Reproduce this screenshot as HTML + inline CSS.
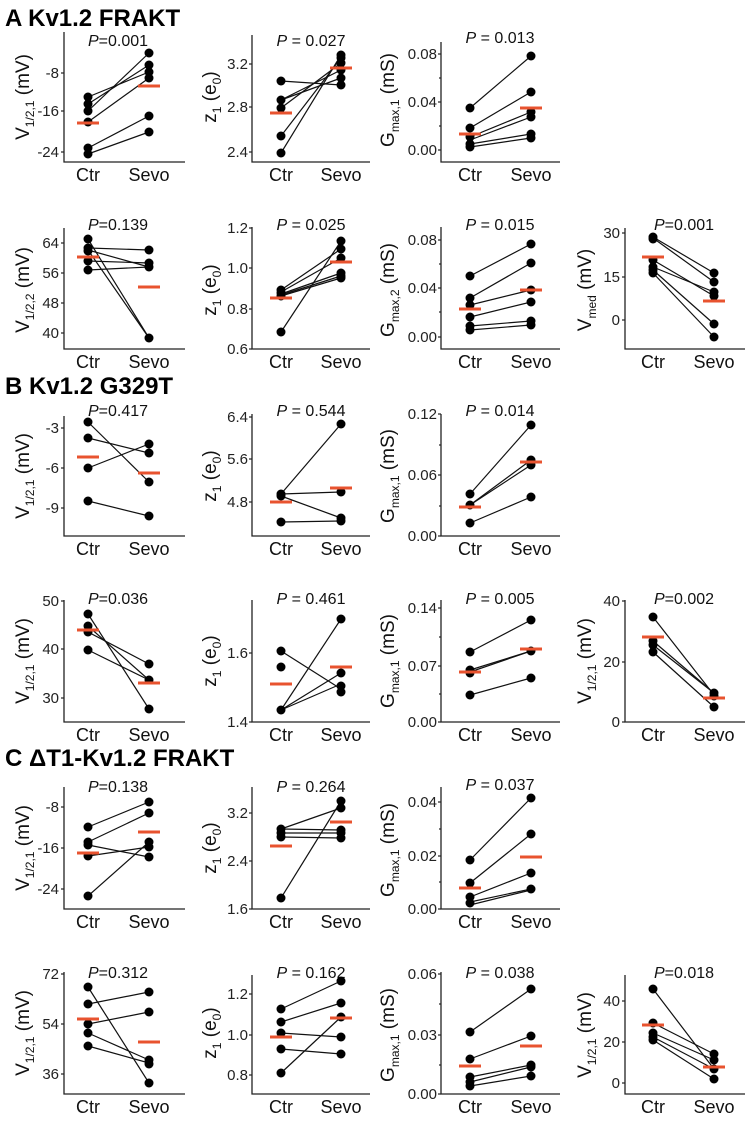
<!DOCTYPE html>
<html><head><meta charset="utf-8"><style>
html,body{margin:0;padding:0;background:#fff;}
svg{display:block;font-family:"Liberation Sans",Arial,sans-serif;}
.ax{fill:none;stroke:#222;stroke-width:1.3}
.tk{stroke:#222;stroke-width:1.2}
.tl{font-size:15px;text-anchor:end;fill:#222}
.xl{font-size:18px;text-anchor:middle;fill:#111}
.p{font-size:16px;text-anchor:middle;fill:#111}
.yl{font-size:19px;text-anchor:middle;fill:#111}
.ln{stroke:#111;stroke-width:1.2}
.d{fill:#000}
.m{stroke:#e8532f;stroke-width:3}
.h{font-size:24px;font-weight:bold;fill:#000}
</style></head><body>
<svg width="751" height="1124" viewBox="0 0 751 1124">
<text class="h" x="5" y="26">A  Kv1.2 FRAKT</text>
<text class="h" x="5" y="394">B  Kv1.2 G329T</text>
<text class="h" x="5" y="766">C  ΔT1-Kv1.2 FRAKT</text>

<!-- ============ A1 ============ -->
<path class="ax" d="M64,32V162H185"/>
<line class="tk" x1="61" y1="73" x2="64" y2="73"/><line class="tk" x1="61" y1="111" x2="64" y2="111"/><line class="tk" x1="61" y1="152" x2="64" y2="152"/>
<text class="tl" x="59" y="78">-8</text><text class="tl" x="59" y="116">-16</text><text class="tl" x="59" y="157">-24</text>
<text class="p" x="118" y="46"><tspan font-style="italic">P</tspan>=0.001</text>
<text class="xl" x="88" y="181">Ctr</text><text class="xl" x="149" y="181">Sevo</text>
<text class="yl" transform="translate(29,97) rotate(-90)">V<tspan font-size="12" dy="5">1/2,1</tspan><tspan dy="-5"> (mV)</tspan></text>
<g>
<line class="ln" x1="88" y1="97" x2="149" y2="72"/><line class="ln" x1="88" y1="104" x2="149" y2="65"/><line class="ln" x1="88" y1="111" x2="149" y2="53"/><line class="ln" x1="88" y1="122" x2="149" y2="78"/><line class="ln" x1="88" y1="148" x2="149" y2="116"/><line class="ln" x1="88" y1="154" x2="149" y2="132"/>
<circle class="d" cx="88" cy="97" r="4.5"/><circle class="d" cx="88" cy="104" r="4.5"/><circle class="d" cx="88" cy="111" r="4.5"/><circle class="d" cx="88" cy="122" r="4.5"/><circle class="d" cx="88" cy="148" r="4.5"/><circle class="d" cx="88" cy="154" r="4.5"/>
<circle class="d" cx="149" cy="53" r="4.5"/><circle class="d" cx="149" cy="65" r="4.5"/><circle class="d" cx="149" cy="72" r="4.5"/><circle class="d" cx="149" cy="78" r="4.5"/><circle class="d" cx="149" cy="116" r="4.5"/><circle class="d" cx="149" cy="132" r="4.5"/>
<line class="m" x1="77" y1="123" x2="99" y2="123"/><line class="m" x1="138" y1="86" x2="160" y2="86"/>
</g>
<path class="ax" d="M252,35V162H370"/>
<line class="tk" x1="249" y1="64" x2="252" y2="64"/><line class="tk" x1="249" y1="107" x2="252" y2="107"/><line class="tk" x1="249" y1="152" x2="252" y2="152"/>
<text class="tl" x="248" y="69">3.2</text><text class="tl" x="248" y="112">2.8</text><text class="tl" x="248" y="157">2.4</text>
<text class="p" x="311" y="46"><tspan font-style="italic">P</tspan> = 0.027</text>
<text class="xl" x="281" y="181">Ctr</text><text class="xl" x="341" y="181">Sevo</text>
<text class="yl" transform="translate(216,97) rotate(-90)">z<tspan font-size="12" dy="5">1</tspan><tspan dy="-5"> (e</tspan><tspan font-size="12" dy="5">0</tspan><tspan dy="-5">)</tspan></text>
<g>
<line class="ln" x1="281" y1="81" x2="341" y2="85"/><line class="ln" x1="281" y1="100" x2="341" y2="70"/><line class="ln" x1="281" y1="100" x2="341" y2="78"/><line class="ln" x1="281" y1="108" x2="341" y2="63"/><line class="ln" x1="281" y1="136" x2="341" y2="58"/><line class="ln" x1="281" y1="153" x2="341" y2="55"/>
<circle class="d" cx="281" cy="81" r="4.5"/><circle class="d" cx="281" cy="100" r="4.5"/><circle class="d" cx="281" cy="108" r="4.5"/><circle class="d" cx="281" cy="136" r="4.5"/><circle class="d" cx="281" cy="153" r="4.5"/>
<circle class="d" cx="341" cy="55" r="4.5"/><circle class="d" cx="341" cy="58" r="4.5"/><circle class="d" cx="341" cy="63" r="4.5"/><circle class="d" cx="341" cy="70" r="4.5"/><circle class="d" cx="341" cy="78" r="4.5"/><circle class="d" cx="341" cy="85" r="4.5"/>
<line class="m" x1="270" y1="113" x2="292" y2="113"/><line class="m" x1="330" y1="68" x2="352" y2="68"/>
</g>
<path class="ax" d="M441,42V162H560"/>
<line class="tk" x1="438" y1="54" x2="441" y2="54"/><line class="tk" x1="438" y1="102" x2="441" y2="102"/><line class="tk" x1="438" y1="150" x2="441" y2="150"/>
<line class="tk" x1="439" y1="78" x2="441" y2="78"/><line class="tk" x1="439" y1="126" x2="441" y2="126"/>
<text class="tl" x="437" y="59">0.08</text><text class="tl" x="437" y="107">0.04</text><text class="tl" x="437" y="155">0.00</text>
<text class="p" x="500" y="43"><tspan font-style="italic">P</tspan> = 0.013</text>
<text class="xl" x="470" y="181">Ctr</text><text class="xl" x="531" y="181">Sevo</text>
<text class="yl" transform="translate(394,100) rotate(-90)">G<tspan font-size="12" dy="5">max,1</tspan><tspan dy="-5"> (mS)</tspan></text>
<g>
<line class="ln" x1="470" y1="108" x2="531" y2="56"/><line class="ln" x1="470" y1="128" x2="531" y2="92"/><line class="ln" x1="470" y1="137" x2="531" y2="112"/><line class="ln" x1="470" y1="140" x2="531" y2="117"/><line class="ln" x1="470" y1="144" x2="531" y2="134"/><line class="ln" x1="470" y1="147" x2="531" y2="138"/>
<circle class="d" cx="470" cy="108" r="4.5"/><circle class="d" cx="470" cy="128" r="4.5"/><circle class="d" cx="470" cy="137" r="4.5"/><circle class="d" cx="470" cy="144" r="4.5"/><circle class="d" cx="470" cy="147" r="4.5"/>
<circle class="d" cx="531" cy="56" r="4.5"/><circle class="d" cx="531" cy="92" r="4.5"/><circle class="d" cx="531" cy="112" r="4.5"/><circle class="d" cx="531" cy="117" r="4.5"/><circle class="d" cx="531" cy="134" r="4.5"/><circle class="d" cx="531" cy="138" r="4.5"/>
<line class="m" x1="459" y1="134" x2="481" y2="134"/><line class="m" x1="520" y1="108" x2="542" y2="108"/>
</g>

<!-- ============ A2 ============ -->
<path class="ax" d="M64,228V349H185"/>
<line class="tk" x1="61" y1="243" x2="64" y2="243"/><line class="tk" x1="61" y1="273" x2="64" y2="273"/><line class="tk" x1="61" y1="303" x2="64" y2="303"/><line class="tk" x1="61" y1="333" x2="64" y2="333"/>
<text class="tl" x="59" y="248">64</text><text class="tl" x="59" y="278">56</text><text class="tl" x="59" y="308">48</text><text class="tl" x="59" y="338">40</text>
<text class="p" x="118" y="230"><tspan font-style="italic">P</tspan>=0.139</text>
<text class="xl" x="88" y="368">Ctr</text><text class="xl" x="149" y="368">Sevo</text>
<text class="yl" transform="translate(29,290) rotate(-90)">V<tspan font-size="12" dy="5">1/2,2</tspan><tspan dy="-5"> (mV)</tspan></text>
<g>
<line class="ln" x1="88" y1="239" x2="149" y2="338"/><line class="ln" x1="88" y1="248" x2="149" y2="250"/><line class="ln" x1="88" y1="250" x2="149" y2="338"/><line class="ln" x1="88" y1="261" x2="149" y2="263"/><line class="ln" x1="88" y1="270" x2="149" y2="267"/><line class="ln" x1="88" y1="250" x2="149" y2="267"/>
<circle class="d" cx="88" cy="239" r="4.5"/><circle class="d" cx="88" cy="248" r="4.5"/><circle class="d" cx="88" cy="251" r="4.5"/><circle class="d" cx="88" cy="261" r="4.5"/><circle class="d" cx="88" cy="270" r="4.5"/>
<circle class="d" cx="149" cy="250" r="4.5"/><circle class="d" cx="149" cy="263" r="4.5"/><circle class="d" cx="149" cy="267" r="4.5"/><circle class="d" cx="149" cy="338" r="4.5"/>
<line class="m" x1="77" y1="257" x2="99" y2="257"/><line class="m" x1="138" y1="287" x2="160" y2="287"/>
</g>
<path class="ax" d="M252,227V349H370"/>
<line class="tk" x1="249" y1="228" x2="252" y2="228"/><line class="tk" x1="249" y1="268" x2="252" y2="268"/><line class="tk" x1="249" y1="309" x2="252" y2="309"/><line class="tk" x1="249" y1="349" x2="252" y2="349"/>
<text class="tl" x="248" y="233">1.2</text><text class="tl" x="248" y="273">1.0</text><text class="tl" x="248" y="314">0.8</text><text class="tl" x="248" y="354">0.6</text>
<text class="p" x="311" y="230"><tspan font-style="italic">P</tspan> = 0.025</text>
<text class="xl" x="281" y="368">Ctr</text><text class="xl" x="341" y="368">Sevo</text>
<text class="yl" transform="translate(216,290) rotate(-90)">z<tspan font-size="12" dy="5">1</tspan><tspan dy="-5"> (e</tspan><tspan font-size="12" dy="5">0</tspan><tspan dy="-5">)</tspan></text>
<g>
<line class="ln" x1="281" y1="290" x2="341" y2="249"/><line class="ln" x1="281" y1="292" x2="341" y2="258"/><line class="ln" x1="281" y1="294" x2="341" y2="273"/><line class="ln" x1="281" y1="295" x2="341" y2="276"/><line class="ln" x1="281" y1="296" x2="341" y2="278"/><line class="ln" x1="281" y1="332" x2="341" y2="241"/>
<circle class="d" cx="281" cy="290" r="4.5"/><circle class="d" cx="281" cy="293" r="4.5"/><circle class="d" cx="281" cy="296" r="4.5"/><circle class="d" cx="281" cy="332" r="4.5"/>
<circle class="d" cx="341" cy="241" r="4.5"/><circle class="d" cx="341" cy="249" r="4.5"/><circle class="d" cx="341" cy="258" r="4.5"/><circle class="d" cx="341" cy="273" r="4.5"/><circle class="d" cx="341" cy="276" r="4.5"/><circle class="d" cx="341" cy="278" r="4.5"/>
<line class="m" x1="270" y1="298" x2="292" y2="298"/><line class="m" x1="330" y1="262" x2="352" y2="262"/>
</g>
<path class="ax" d="M441,227V349H560"/>
<line class="tk" x1="438" y1="240" x2="441" y2="240"/><line class="tk" x1="438" y1="288" x2="441" y2="288"/><line class="tk" x1="438" y1="337" x2="441" y2="337"/>
<line class="tk" x1="439" y1="264" x2="441" y2="264"/><line class="tk" x1="439" y1="312" x2="441" y2="312"/>
<text class="tl" x="437" y="245">0.08</text><text class="tl" x="437" y="293">0.04</text><text class="tl" x="437" y="342">0.00</text>
<text class="p" x="500" y="230"><tspan font-style="italic">P</tspan> = 0.015</text>
<text class="xl" x="470" y="368">Ctr</text><text class="xl" x="531" y="368">Sevo</text>
<text class="yl" transform="translate(394,290) rotate(-90)">G<tspan font-size="12" dy="5">max,2</tspan><tspan dy="-5"> (mS)</tspan></text>
<g>
<line class="ln" x1="470" y1="276" x2="531" y2="244"/><line class="ln" x1="470" y1="298" x2="531" y2="263"/><line class="ln" x1="470" y1="305" x2="531" y2="290"/><line class="ln" x1="470" y1="317" x2="531" y2="302"/><line class="ln" x1="470" y1="326" x2="531" y2="321"/><line class="ln" x1="470" y1="330" x2="531" y2="325"/>
<circle class="d" cx="470" cy="276" r="4.5"/><circle class="d" cx="470" cy="298" r="4.5"/><circle class="d" cx="470" cy="305" r="4.5"/><circle class="d" cx="470" cy="317" r="4.5"/><circle class="d" cx="470" cy="326" r="4.5"/><circle class="d" cx="470" cy="330" r="4.5"/>
<circle class="d" cx="531" cy="244" r="4.5"/><circle class="d" cx="531" cy="263" r="4.5"/><circle class="d" cx="531" cy="290" r="4.5"/><circle class="d" cx="531" cy="302" r="4.5"/><circle class="d" cx="531" cy="321" r="4.5"/><circle class="d" cx="531" cy="325" r="4.5"/>
<line class="m" x1="459" y1="309" x2="481" y2="309"/><line class="m" x1="520" y1="290" x2="542" y2="290"/>
</g>
<path class="ax" d="M625,228V349H745"/>
<line class="tk" x1="622" y1="233" x2="625" y2="233"/><line class="tk" x1="622" y1="277" x2="625" y2="277"/><line class="tk" x1="622" y1="320" x2="625" y2="320"/>
<text class="tl" x="620" y="238">30</text><text class="tl" x="620" y="282">15</text><text class="tl" x="620" y="325">0</text>
<text class="p" x="684" y="230"><tspan font-style="italic">P</tspan>=0.001</text>
<text class="xl" x="653" y="368">Ctr</text><text class="xl" x="714" y="368">Sevo</text>
<text class="yl" transform="translate(591,290) rotate(-90)">V<tspan font-size="12" dy="5">med</tspan><tspan dy="-5"> (mV)</tspan></text>
<g>
<line class="ln" x1="653" y1="237" x2="714" y2="273"/><line class="ln" x1="653" y1="238" x2="714" y2="282"/><line class="ln" x1="653" y1="260" x2="714" y2="296"/><line class="ln" x1="653" y1="267" x2="714" y2="292"/><line class="ln" x1="653" y1="270" x2="714" y2="324"/><line class="ln" x1="653" y1="273" x2="714" y2="337"/>
<circle class="d" cx="653" cy="237" r="4.5"/><circle class="d" cx="653" cy="239" r="4.5"/><circle class="d" cx="653" cy="260" r="4.5"/><circle class="d" cx="653" cy="267" r="4.5"/><circle class="d" cx="653" cy="270" r="4.5"/><circle class="d" cx="653" cy="273" r="4.5"/>
<circle class="d" cx="714" cy="273" r="4.5"/><circle class="d" cx="714" cy="282" r="4.5"/><circle class="d" cx="714" cy="292" r="4.5"/><circle class="d" cx="714" cy="296" r="4.5"/><circle class="d" cx="714" cy="324" r="4.5"/><circle class="d" cx="714" cy="337" r="4.5"/>
<line class="m" x1="642" y1="257" x2="664" y2="257"/><line class="m" x1="703" y1="301" x2="725" y2="301"/>
</g>

<!-- ============ B1 ============ -->
<path class="ax" d="M64,416V536H185"/>
<line class="tk" x1="61" y1="428" x2="64" y2="428"/><line class="tk" x1="61" y1="468" x2="64" y2="468"/><line class="tk" x1="61" y1="508" x2="64" y2="508"/>
<text class="tl" x="59" y="433">-3</text><text class="tl" x="59" y="473">-6</text><text class="tl" x="59" y="513">-9</text>
<text class="p" x="118" y="416"><tspan font-style="italic">P</tspan>=0.417</text>
<text class="xl" x="88" y="555">Ctr</text><text class="xl" x="149" y="555">Sevo</text>
<text class="yl" transform="translate(29,476) rotate(-90)">V<tspan font-size="12" dy="5">1/2,1</tspan><tspan dy="-5"> (mV)</tspan></text>
<g>
<line class="ln" x1="88" y1="422" x2="149" y2="482"/><line class="ln" x1="88" y1="438" x2="149" y2="453"/><line class="ln" x1="88" y1="468" x2="149" y2="444"/><line class="ln" x1="88" y1="501" x2="149" y2="516"/>
<circle class="d" cx="88" cy="422" r="4.5"/><circle class="d" cx="88" cy="438" r="4.5"/><circle class="d" cx="88" cy="468" r="4.5"/><circle class="d" cx="88" cy="501" r="4.5"/>
<circle class="d" cx="149" cy="444" r="4.5"/><circle class="d" cx="149" cy="453" r="4.5"/><circle class="d" cx="149" cy="482" r="4.5"/><circle class="d" cx="149" cy="516" r="4.5"/>
<line class="m" x1="77" y1="457" x2="99" y2="457"/><line class="m" x1="138" y1="473" x2="160" y2="473"/>
</g>
<path class="ax" d="M252,414V536H370"/>
<line class="tk" x1="249" y1="417" x2="252" y2="417"/><line class="tk" x1="249" y1="459" x2="252" y2="459"/><line class="tk" x1="249" y1="502" x2="252" y2="502"/>
<text class="tl" x="248" y="422">6.4</text><text class="tl" x="248" y="464">5.6</text><text class="tl" x="248" y="507">4.8</text>
<text class="p" x="311" y="416"><tspan font-style="italic">P</tspan> = 0.544</text>
<text class="xl" x="281" y="555">Ctr</text><text class="xl" x="341" y="555">Sevo</text>
<text class="yl" transform="translate(216,476) rotate(-90)">z<tspan font-size="12" dy="5">1</tspan><tspan dy="-5"> (e</tspan><tspan font-size="12" dy="5">0</tspan><tspan dy="-5">)</tspan></text>
<g>
<line class="ln" x1="281" y1="494" x2="341" y2="424"/><line class="ln" x1="281" y1="494" x2="341" y2="492"/><line class="ln" x1="281" y1="496" x2="341" y2="518"/><line class="ln" x1="281" y1="522" x2="341" y2="521"/>
<circle class="d" cx="281" cy="494" r="4.5"/><circle class="d" cx="281" cy="496" r="4.5"/><circle class="d" cx="281" cy="522" r="4.5"/>
<circle class="d" cx="341" cy="424" r="4.5"/><circle class="d" cx="341" cy="492" r="4.5"/><circle class="d" cx="341" cy="518" r="4.5"/><circle class="d" cx="341" cy="521" r="4.5"/>
<line class="m" x1="270" y1="502" x2="292" y2="502"/><line class="m" x1="330" y1="488" x2="352" y2="488"/>
</g>
<path class="ax" d="M441,414V536H560"/>
<line class="tk" x1="438" y1="414" x2="441" y2="414"/><line class="tk" x1="438" y1="475" x2="441" y2="475"/><line class="tk" x1="438" y1="536" x2="441" y2="536"/>
<line class="tk" x1="439" y1="445" x2="441" y2="445"/><line class="tk" x1="439" y1="506" x2="441" y2="506"/>
<text class="tl" x="437" y="419">0.12</text><text class="tl" x="437" y="480">0.06</text><text class="tl" x="437" y="541">0.00</text>
<text class="p" x="500" y="416"><tspan font-style="italic">P</tspan> = 0.014</text>
<text class="xl" x="470" y="555">Ctr</text><text class="xl" x="531" y="555">Sevo</text>
<text class="yl" transform="translate(394,476) rotate(-90)">G<tspan font-size="12" dy="5">max,1</tspan><tspan dy="-5"> (mS)</tspan></text>
<g>
<line class="ln" x1="470" y1="494" x2="531" y2="425"/><line class="ln" x1="470" y1="505" x2="531" y2="460"/><line class="ln" x1="470" y1="505" x2="531" y2="465"/><line class="ln" x1="470" y1="523" x2="531" y2="497"/>
<circle class="d" cx="470" cy="494" r="4.5"/><circle class="d" cx="470" cy="505" r="4.5"/><circle class="d" cx="470" cy="523" r="4.5"/>
<circle class="d" cx="531" cy="425" r="4.5"/><circle class="d" cx="531" cy="460" r="4.5"/><circle class="d" cx="531" cy="465" r="4.5"/><circle class="d" cx="531" cy="497" r="4.5"/>
<line class="m" x1="459" y1="507" x2="481" y2="507"/><line class="m" x1="520" y1="462" x2="542" y2="462"/>
</g>

<!-- ============ B2 ============ -->
<path class="ax" d="M64,600V722H185"/>
<line class="tk" x1="61" y1="601" x2="64" y2="601"/><line class="tk" x1="61" y1="649" x2="64" y2="649"/><line class="tk" x1="61" y1="698" x2="64" y2="698"/>
<text class="tl" x="59" y="606">50</text><text class="tl" x="59" y="654">40</text><text class="tl" x="59" y="703">30</text>
<text class="p" x="118" y="604"><tspan font-style="italic">P</tspan>=0.036</text>
<text class="xl" x="88" y="741">Ctr</text><text class="xl" x="149" y="741">Sevo</text>
<text class="yl" transform="translate(29,661) rotate(-90)">V<tspan font-size="12" dy="5">1/2,1</tspan><tspan dy="-5"> (mV)</tspan></text>
<g>
<line class="ln" x1="88" y1="614" x2="149" y2="709"/><line class="ln" x1="88" y1="626" x2="149" y2="680"/><line class="ln" x1="88" y1="632" x2="149" y2="664"/><line class="ln" x1="88" y1="650" x2="149" y2="680"/>
<circle class="d" cx="88" cy="614" r="4.5"/><circle class="d" cx="88" cy="626" r="4.5"/><circle class="d" cx="88" cy="632" r="4.5"/><circle class="d" cx="88" cy="650" r="4.5"/>
<circle class="d" cx="149" cy="664" r="4.5"/><circle class="d" cx="149" cy="680" r="4.5"/><circle class="d" cx="149" cy="709" r="4.5"/>
<line class="m" x1="77" y1="630" x2="99" y2="630"/><line class="m" x1="138" y1="683" x2="160" y2="683"/>
</g>
<path class="ax" d="M252,600V722H370"/>
<line class="tk" x1="249" y1="653" x2="252" y2="653"/><line class="tk" x1="249" y1="722" x2="252" y2="722"/>
<text class="tl" x="248" y="658">1.6</text><text class="tl" x="248" y="727">1.4</text>
<text class="p" x="311" y="604"><tspan font-style="italic">P</tspan> = 0.461</text>
<text class="xl" x="281" y="741">Ctr</text><text class="xl" x="341" y="741">Sevo</text>
<text class="yl" transform="translate(216,661) rotate(-90)">z<tspan font-size="12" dy="5">1</tspan><tspan dy="-5"> (e</tspan><tspan font-size="12" dy="5">0</tspan><tspan dy="-5">)</tspan></text>
<g>
<line class="ln" x1="281" y1="651" x2="341" y2="689"/><line class="ln" x1="281" y1="710" x2="341" y2="619"/><line class="ln" x1="281" y1="710" x2="341" y2="673"/><line class="ln" x1="281" y1="710" x2="341" y2="684"/>
<circle class="d" cx="281" cy="651" r="4.5"/><circle class="d" cx="281" cy="667" r="4.5"/><circle class="d" cx="281" cy="710" r="4.5"/>
<circle class="d" cx="341" cy="619" r="4.5"/><circle class="d" cx="341" cy="673" r="4.5"/><circle class="d" cx="341" cy="686" r="4.5"/><circle class="d" cx="341" cy="692" r="4.5"/>
<line class="m" x1="270" y1="684" x2="292" y2="684"/><line class="m" x1="330" y1="667" x2="352" y2="667"/>
</g>
<path class="ax" d="M441,600V722H560"/>
<line class="tk" x1="438" y1="608" x2="441" y2="608"/><line class="tk" x1="438" y1="666" x2="441" y2="666"/><line class="tk" x1="438" y1="722" x2="441" y2="722"/>
<line class="tk" x1="439" y1="637" x2="441" y2="637"/><line class="tk" x1="439" y1="694" x2="441" y2="694"/>
<text class="tl" x="437" y="613">0.14</text><text class="tl" x="437" y="671">0.07</text><text class="tl" x="437" y="727">0.00</text>
<text class="p" x="500" y="604"><tspan font-style="italic">P</tspan> = 0.005</text>
<text class="xl" x="470" y="741">Ctr</text><text class="xl" x="531" y="741">Sevo</text>
<text class="yl" transform="translate(394,661) rotate(-90)">G<tspan font-size="12" dy="5">max,1</tspan><tspan dy="-5"> (mS)</tspan></text>
<g>
<line class="ln" x1="470" y1="652" x2="531" y2="620"/><line class="ln" x1="470" y1="670" x2="531" y2="651"/><line class="ln" x1="470" y1="672" x2="531" y2="651"/><line class="ln" x1="470" y1="695" x2="531" y2="678"/>
<circle class="d" cx="470" cy="652" r="4.5"/><circle class="d" cx="470" cy="670" r="4.5"/><circle class="d" cx="470" cy="673" r="4.5"/><circle class="d" cx="470" cy="695" r="4.5"/>
<circle class="d" cx="531" cy="620" r="4.5"/><circle class="d" cx="531" cy="651" r="4.5"/><circle class="d" cx="531" cy="678" r="4.5"/>
<line class="m" x1="459" y1="672" x2="481" y2="672"/><line class="m" x1="520" y1="649" x2="542" y2="649"/>
</g>
<path class="ax" d="M625,600V722H745"/>
<line class="tk" x1="622" y1="601" x2="625" y2="601"/><line class="tk" x1="622" y1="662" x2="625" y2="662"/><line class="tk" x1="622" y1="722" x2="625" y2="722"/>
<text class="tl" x="620" y="606">40</text><text class="tl" x="620" y="667">20</text><text class="tl" x="620" y="727">0</text>
<text class="p" x="684" y="604"><tspan font-style="italic">P</tspan>=0.002</text>
<text class="xl" x="653" y="741">Ctr</text><text class="xl" x="714" y="741">Sevo</text>
<text class="yl" transform="translate(591,661) rotate(-90)">V<tspan font-size="12" dy="5">1/2,1</tspan><tspan dy="-5"> (mV)</tspan></text>
<g>
<line class="ln" x1="653" y1="617" x2="714" y2="695"/><line class="ln" x1="653" y1="641" x2="714" y2="693"/><line class="ln" x1="653" y1="645" x2="714" y2="693"/><line class="ln" x1="653" y1="652" x2="714" y2="707"/>
<circle class="d" cx="653" cy="617" r="4.5"/><circle class="d" cx="653" cy="641" r="4.5"/><circle class="d" cx="653" cy="645" r="4.5"/><circle class="d" cx="653" cy="652" r="4.5"/>
<circle class="d" cx="714" cy="693" r="4.5"/><circle class="d" cx="714" cy="696" r="4.5"/><circle class="d" cx="714" cy="707" r="4.5"/>
<line class="m" x1="642" y1="637" x2="664" y2="637"/><line class="m" x1="703" y1="698" x2="725" y2="698"/>
</g>

<!-- ============ C1 ============ -->
<path class="ax" d="M64,787V909H185"/>
<line class="tk" x1="61" y1="807" x2="64" y2="807"/><line class="tk" x1="61" y1="848" x2="64" y2="848"/><line class="tk" x1="61" y1="889" x2="64" y2="889"/>
<text class="tl" x="59" y="812">-8</text><text class="tl" x="59" y="853">-16</text><text class="tl" x="59" y="894">-24</text>
<text class="p" x="118" y="792"><tspan font-style="italic">P</tspan>=0.138</text>
<text class="xl" x="88" y="928">Ctr</text><text class="xl" x="149" y="928">Sevo</text>
<text class="yl" transform="translate(29,848) rotate(-90)">V<tspan font-size="12" dy="5">1/2,1</tspan><tspan dy="-5"> (mV)</tspan></text>
<g>
<line class="ln" x1="88" y1="827" x2="149" y2="802"/><line class="ln" x1="88" y1="842" x2="149" y2="813"/><line class="ln" x1="88" y1="845" x2="149" y2="857"/><line class="ln" x1="88" y1="856" x2="149" y2="847"/><line class="ln" x1="88" y1="896" x2="149" y2="842"/>
<circle class="d" cx="88" cy="827" r="4.5"/><circle class="d" cx="88" cy="842" r="4.5"/><circle class="d" cx="88" cy="845" r="4.5"/><circle class="d" cx="88" cy="856" r="4.5"/><circle class="d" cx="88" cy="896" r="4.5"/>
<circle class="d" cx="149" cy="802" r="4.5"/><circle class="d" cx="149" cy="813" r="4.5"/><circle class="d" cx="149" cy="842" r="4.5"/><circle class="d" cx="149" cy="847" r="4.5"/><circle class="d" cx="149" cy="857" r="4.5"/>
<line class="m" x1="77" y1="853" x2="99" y2="853"/><line class="m" x1="138" y1="832" x2="160" y2="832"/>
</g>
<path class="ax" d="M252,787V909H370"/>
<line class="tk" x1="249" y1="813" x2="252" y2="813"/><line class="tk" x1="249" y1="861" x2="252" y2="861"/><line class="tk" x1="249" y1="909" x2="252" y2="909"/>
<text class="tl" x="248" y="818">3.2</text><text class="tl" x="248" y="866">2.4</text><text class="tl" x="248" y="914">1.6</text>
<text class="p" x="311" y="792"><tspan font-style="italic">P</tspan> = 0.264</text>
<text class="xl" x="281" y="928">Ctr</text><text class="xl" x="341" y="928">Sevo</text>
<text class="yl" transform="translate(216,848) rotate(-90)">z<tspan font-size="12" dy="5">1</tspan><tspan dy="-5"> (e</tspan><tspan font-size="12" dy="5">0</tspan><tspan dy="-5">)</tspan></text>
<g>
<line class="ln" x1="281" y1="829" x2="341" y2="808"/><line class="ln" x1="281" y1="829" x2="341" y2="830"/><line class="ln" x1="281" y1="833" x2="341" y2="833"/><line class="ln" x1="281" y1="837" x2="341" y2="838"/><line class="ln" x1="281" y1="898" x2="341" y2="801"/>
<circle class="d" cx="281" cy="829" r="4.5"/><circle class="d" cx="281" cy="833" r="4.5"/><circle class="d" cx="281" cy="837" r="4.5"/><circle class="d" cx="281" cy="898" r="4.5"/>
<circle class="d" cx="341" cy="801" r="4.5"/><circle class="d" cx="341" cy="808" r="4.5"/><circle class="d" cx="341" cy="830" r="4.5"/><circle class="d" cx="341" cy="833" r="4.5"/><circle class="d" cx="341" cy="838" r="4.5"/>
<line class="m" x1="270" y1="846" x2="292" y2="846"/><line class="m" x1="330" y1="822" x2="352" y2="822"/>
</g>
<path class="ax" d="M441,787V909H560"/>
<line class="tk" x1="438" y1="802" x2="441" y2="802"/><line class="tk" x1="438" y1="856" x2="441" y2="856"/><line class="tk" x1="438" y1="909" x2="441" y2="909"/>
<line class="tk" x1="439" y1="829" x2="441" y2="829"/><line class="tk" x1="439" y1="882" x2="441" y2="882"/>
<text class="tl" x="437" y="807">0.04</text><text class="tl" x="437" y="861">0.02</text><text class="tl" x="437" y="914">0.00</text>
<text class="p" x="500" y="790"><tspan font-style="italic">P</tspan> = 0.037</text>
<text class="xl" x="470" y="928">Ctr</text><text class="xl" x="531" y="928">Sevo</text>
<text class="yl" transform="translate(394,850) rotate(-90)">G<tspan font-size="12" dy="5">max,1</tspan><tspan dy="-5"> (mS)</tspan></text>
<g>
<line class="ln" x1="470" y1="860" x2="531" y2="798"/><line class="ln" x1="470" y1="883" x2="531" y2="834"/><line class="ln" x1="470" y1="897" x2="531" y2="873"/><line class="ln" x1="470" y1="902" x2="531" y2="889"/><line class="ln" x1="470" y1="905" x2="531" y2="890"/>
<circle class="d" cx="470" cy="860" r="4.5"/><circle class="d" cx="470" cy="883" r="4.5"/><circle class="d" cx="470" cy="897" r="4.5"/><circle class="d" cx="470" cy="903" r="4.5"/>
<circle class="d" cx="531" cy="798" r="4.5"/><circle class="d" cx="531" cy="834" r="4.5"/><circle class="d" cx="531" cy="873" r="4.5"/><circle class="d" cx="531" cy="889" r="4.5"/>
<line class="m" x1="459" y1="888" x2="481" y2="888"/><line class="m" x1="520" y1="857" x2="542" y2="857"/>
</g>

<!-- ============ C2 ============ -->
<path class="ax" d="M64,972V1094H185"/>
<line class="tk" x1="61" y1="974" x2="64" y2="974"/><line class="tk" x1="61" y1="1024" x2="64" y2="1024"/><line class="tk" x1="61" y1="1074" x2="64" y2="1074"/>
<text class="tl" x="59" y="979">72</text><text class="tl" x="59" y="1029">54</text><text class="tl" x="59" y="1079">36</text>
<text class="p" x="118" y="978"><tspan font-style="italic">P</tspan>=0.312</text>
<text class="xl" x="88" y="1113">Ctr</text><text class="xl" x="149" y="1113">Sevo</text>
<text class="yl" transform="translate(29,1033) rotate(-90)">V<tspan font-size="12" dy="5">1/2,1</tspan><tspan dy="-5"> (mV)</tspan></text>
<g>
<line class="ln" x1="88" y1="987" x2="149" y2="1083"/><line class="ln" x1="88" y1="1004" x2="149" y2="992"/><line class="ln" x1="88" y1="1024" x2="149" y2="1012"/><line class="ln" x1="88" y1="1033" x2="149" y2="1060"/><line class="ln" x1="88" y1="1046" x2="149" y2="1063"/>
<circle class="d" cx="88" cy="987" r="4.5"/><circle class="d" cx="88" cy="1004" r="4.5"/><circle class="d" cx="88" cy="1024" r="4.5"/><circle class="d" cx="88" cy="1033" r="4.5"/><circle class="d" cx="88" cy="1046" r="4.5"/>
<circle class="d" cx="149" cy="992" r="4.5"/><circle class="d" cx="149" cy="1012" r="4.5"/><circle class="d" cx="149" cy="1060" r="4.5"/><circle class="d" cx="149" cy="1064" r="4.5"/><circle class="d" cx="149" cy="1083" r="4.5"/>
<line class="m" x1="77" y1="1019" x2="99" y2="1019"/><line class="m" x1="138" y1="1042" x2="160" y2="1042"/>
</g>
<path class="ax" d="M252,975V1094H370"/>
<line class="tk" x1="249" y1="994" x2="252" y2="994"/><line class="tk" x1="249" y1="1035" x2="252" y2="1035"/><line class="tk" x1="249" y1="1075" x2="252" y2="1075"/>
<text class="tl" x="248" y="999">1.2</text><text class="tl" x="248" y="1040">1.0</text><text class="tl" x="248" y="1080">0.8</text>
<text class="p" x="311" y="978"><tspan font-style="italic">P</tspan> = 0.162</text>
<text class="xl" x="281" y="1113">Ctr</text><text class="xl" x="341" y="1113">Sevo</text>
<text class="yl" transform="translate(216,1033) rotate(-90)">z<tspan font-size="12" dy="5">1</tspan><tspan dy="-5"> (e</tspan><tspan font-size="12" dy="5">0</tspan><tspan dy="-5">)</tspan></text>
<g>
<line class="ln" x1="281" y1="1009" x2="341" y2="981"/><line class="ln" x1="281" y1="1022" x2="341" y2="1003"/><line class="ln" x1="281" y1="1033" x2="341" y2="1037"/><line class="ln" x1="281" y1="1049" x2="341" y2="1054"/><line class="ln" x1="281" y1="1073" x2="341" y2="1017"/>
<circle class="d" cx="281" cy="1009" r="4.5"/><circle class="d" cx="281" cy="1022" r="4.5"/><circle class="d" cx="281" cy="1033" r="4.5"/><circle class="d" cx="281" cy="1049" r="4.5"/><circle class="d" cx="281" cy="1073" r="4.5"/>
<circle class="d" cx="341" cy="981" r="4.5"/><circle class="d" cx="341" cy="1003" r="4.5"/><circle class="d" cx="341" cy="1017" r="4.5"/><circle class="d" cx="341" cy="1037" r="4.5"/><circle class="d" cx="341" cy="1054" r="4.5"/>
<line class="m" x1="270" y1="1037" x2="292" y2="1037"/><line class="m" x1="330" y1="1018" x2="352" y2="1018"/>
</g>
<path class="ax" d="M441,972V1094H560"/>
<line class="tk" x1="438" y1="974" x2="441" y2="974"/><line class="tk" x1="438" y1="1035" x2="441" y2="1035"/><line class="tk" x1="438" y1="1094" x2="441" y2="1094"/>
<line class="tk" x1="439" y1="1004" x2="441" y2="1004"/><line class="tk" x1="439" y1="1065" x2="441" y2="1065"/>
<text class="tl" x="437" y="979">0.06</text><text class="tl" x="437" y="1040">0.03</text><text class="tl" x="437" y="1099">0.00</text>
<text class="p" x="500" y="978"><tspan font-style="italic">P</tspan> = 0.038</text>
<text class="xl" x="470" y="1113">Ctr</text><text class="xl" x="531" y="1113">Sevo</text>
<text class="yl" transform="translate(394,1035) rotate(-90)">G<tspan font-size="12" dy="5">max,1</tspan><tspan dy="-5"> (mS)</tspan></text>
<g>
<line class="ln" x1="470" y1="1032" x2="531" y2="989"/><line class="ln" x1="470" y1="1059" x2="531" y2="1036"/><line class="ln" x1="470" y1="1077" x2="531" y2="1065"/><line class="ln" x1="470" y1="1082" x2="531" y2="1067"/><line class="ln" x1="470" y1="1086" x2="531" y2="1076"/>
<circle class="d" cx="470" cy="1032" r="4.5"/><circle class="d" cx="470" cy="1059" r="4.5"/><circle class="d" cx="470" cy="1077" r="4.5"/><circle class="d" cx="470" cy="1082" r="4.5"/><circle class="d" cx="470" cy="1086" r="4.5"/>
<circle class="d" cx="531" cy="989" r="4.5"/><circle class="d" cx="531" cy="1036" r="4.5"/><circle class="d" cx="531" cy="1065" r="4.5"/><circle class="d" cx="531" cy="1067" r="4.5"/><circle class="d" cx="531" cy="1076" r="4.5"/>
<line class="m" x1="459" y1="1066" x2="481" y2="1066"/><line class="m" x1="520" y1="1046" x2="542" y2="1046"/>
</g>
<path class="ax" d="M625,975V1094H745"/>
<line class="tk" x1="622" y1="1001" x2="625" y2="1001"/><line class="tk" x1="622" y1="1042" x2="625" y2="1042"/><line class="tk" x1="622" y1="1083" x2="625" y2="1083"/>
<text class="tl" x="620" y="1006">40</text><text class="tl" x="620" y="1047">20</text><text class="tl" x="620" y="1088">0</text>
<text class="p" x="684" y="978"><tspan font-style="italic">P</tspan>=0.018</text>
<text class="xl" x="653" y="1113">Ctr</text><text class="xl" x="714" y="1113">Sevo</text>
<text class="yl" transform="translate(591,1035) rotate(-90)">V<tspan font-size="12" dy="5">1/2,1</tspan><tspan dy="-5"> (mV)</tspan></text>
<g>
<line class="ln" x1="653" y1="989" x2="714" y2="1069"/><line class="ln" x1="653" y1="1023" x2="714" y2="1054"/><line class="ln" x1="653" y1="1033" x2="714" y2="1060"/><line class="ln" x1="653" y1="1037" x2="714" y2="1069"/><line class="ln" x1="653" y1="1040" x2="714" y2="1079"/>
<circle class="d" cx="653" cy="989" r="4.5"/><circle class="d" cx="653" cy="1023" r="4.5"/><circle class="d" cx="653" cy="1033" r="4.5"/><circle class="d" cx="653" cy="1037" r="4.5"/><circle class="d" cx="653" cy="1040" r="4.5"/>
<circle class="d" cx="714" cy="1054" r="4.5"/><circle class="d" cx="714" cy="1060" r="4.5"/><circle class="d" cx="714" cy="1069" r="4.5"/><circle class="d" cx="714" cy="1079" r="4.5"/>
<line class="m" x1="642" y1="1025" x2="664" y2="1025"/><line class="m" x1="703" y1="1067" x2="725" y2="1067"/>
</g>
</svg>
</body></html>
